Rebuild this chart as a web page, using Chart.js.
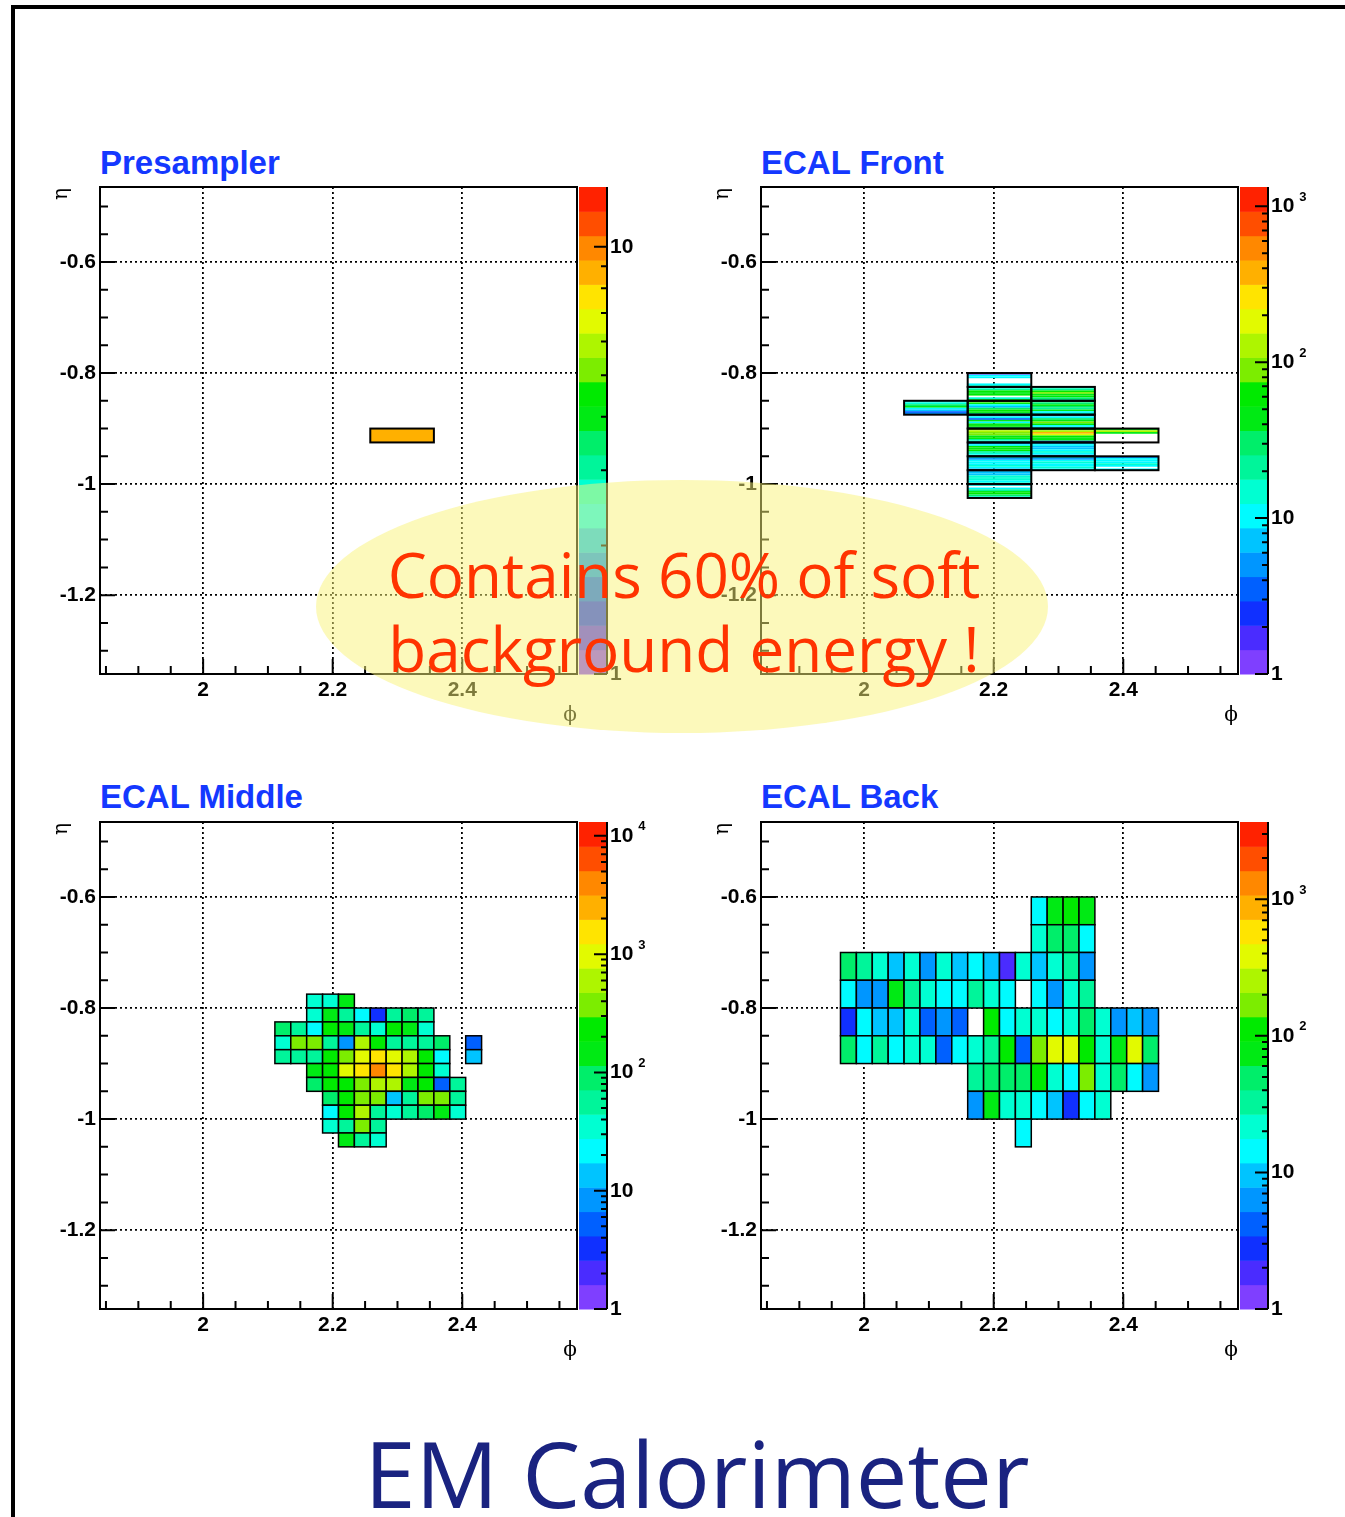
<!DOCTYPE html>
<html>
<head>
<meta charset="utf-8">
<script src="https://cdn.jsdelivr.net/npm/chart.js@4.4.0/dist/chart.umd.min.js"></script>
<style>
    html, body { margin: 0; padding: 0; background: #fff; }
    body { width: 1345px; height: 1517px; position: relative; overflow: hidden; }
    canvas { position: absolute; }
    .rule-top { position: absolute; left: 11px; top: 5px; width: 1334px; height: 4px; background: #000; }
    .rule-left { position: absolute; left: 11px; top: 5px; width: 4px; height: 1512px; background: #000; }
    .title { position: absolute; font: bold 33px 'Liberation Sans', Arial, sans-serif; line-height: 33px; color: #1438ff; white-space: nowrap; }
    .blob { position: absolute; left: 316px; top: 480px; width: 732px; height: 253px; border-radius: 50%; background: rgba(250, 244, 120, 0.5); }
    .note { position: absolute; left: 684px; top: 537px; transform: translateX(-50%); font: 62px 'Open Sans', sans-serif; line-height: 74px; color: #ff3300; text-align: center; white-space: nowrap; }
    .big { position: absolute; left: 697px; top: 1427px; transform: translateX(-50%); font: 92px 'Open Sans', sans-serif; line-height: 92px; color: #1a2380; white-space: nowrap; }
</style>
</head>
<body>
<div class="rule-top"></div>
<div class="rule-left"></div>

<div class="title" style="left:100px;top:146px">Presampler</div>
<div class="title" style="left:761px;top:146px">ECAL Front</div>
<div class="title" style="left:100px;top:780px">ECAL Middle</div>
<div class="title" style="left:761px;top:780px">ECAL Back</div>

<canvas id="preChart" width="667" height="557" style="left:5px;top:177px"></canvas>
<canvas id="frontChart" width="667" height="557" style="left:666px;top:177px"></canvas>
<canvas id="middleChart" width="667" height="557" style="left:5px;top:812px"></canvas>
<canvas id="backChart" width="667" height="557" style="left:666px;top:812px"></canvas>

<div class="blob"></div>
<div class="note">Contains 60% of soft<br>background energy !</div>
<div class="big">EM Calorimeter</div>

<script>
// axis ranges (phi, eta) and ticks
const PHI_MIN = 1.8408, PHI_MAX = 2.5771;
const ETA_MIN = -1.342, ETA_MAX = -0.465;
const phiMajor = [2, 2.2, 2.4];
const phiTickLabels = ['2', '2.2', '2.4'];
const etaMajor = [-0.6, -0.8, -1.0, -1.2];
const etaTickLabels = ['-0.6', '-0.8', '-1', '-1.2'];

// cell sizes
const D_PHI_COARSE = 2 * Math.PI / 64;
const D_PHI_FINE = 2 * Math.PI / 256;
const D_ETA = 0.025;
const D_ETA_BACK = 0.05;
const D_ETA_STRIP = 0.025 / 8;

// colour scale maxima
const preZMax = 13.8;
const frontZMax = 1330;
const middleZMax = 13100;
const backZMax = 3670;

// 20-step rainbow palette, low -> high
const palette = [
    '#7f3fff', '#4a2cff', '#1030ff', '#0060ff', '#0096ff',
    '#00c4ff', '#00fbff', '#00ffd2', '#00f59a', '#00ee6a',
    '#00ea14', '#00ea00', '#7ced00', '#aef500', '#e2fa00',
    '#ffe400', '#ffb000', '#ff8800', '#ff4e00', '#ff2200'
];

// Presampler: [phi bin (2pi/64), eta top edge, energy]
const preCells = [[23, -0.9, 8.7]];

// ECAL Front: [phi bin (2pi/64), eta top edge of block, 8 strips top -> bottom]
const frontBlocks = [
    [21, -0.85,  [10, 15, 30, 45, 11, 7.2, 3.5, 5]],
    [22, -0.8,   [1.3, 10, 11, null, null, null, 10, 14]],
    [22, -0.825, [10, 21, 63, 45, 60, null, 15, 44]],
    [22, -0.85,  [90, 45, 10, 7, 30, 63, 44, 21]],
    [22, -0.875, [5, 10, 3.5, 44, 10, 45, 63, 30]],
    [22, -0.9,   [130, 125, 90, 88, 44, 63, 21, 10]],
    [22, -0.925, [5, 10, 63, 44, 60, 21, 15, 10]],
    [22, -0.95,  [10, 5, 11, 10, 10.5, 15, 10, 7]],
    [22, -0.975, [7, 7.2, 7, 15, 14, 15, 10, 15]],
    [22, -1.0,   [10, null, 11, 21, 44, 63, 30, 15]],
    [23, -0.825, [15, 21, 63, 90, 44, 63, 30, 21]],
    [23, -0.85,  [21, 30, 44, 30, 21, 44, 10, 15]],
    [23, -0.875, [7, 10, 30, 44, 90, 63, 10, 15]],
    [23, -0.9,   [63, 129, 378, 184, 63, 44, 44, 3.5]],
    [23, -0.925, [7, 10, 7, 7.2, 10, 15, 10, 7]],
    [23, -0.95,  [10, 5, 10, 15, 11, 10, 14, 10]],
    [24, -0.9,   [44, 129, 44, null, null, null, null, null]],
    [24, -0.95,  [5, 10, 11, 10, 15, 10, null, 10]]
];

// ECAL Middle: rows of 0.025 in eta from -0.775 down, columns from phi bin 86 (2pi/256)
const middleEtaTop = -0.775;
const middlePhiFirst = 86;
const middleRows = [
    [null, null, 35, 38, 150, null, null, null, null, null, null, null, null],
    [null, null, 33, 160, 60, 22, 3.3, 58, 90, 55, null, null, null],
    [85, 60, 20, 200, 170, 62, 36, 190, 160, 38, null, null, null],
    [34, 400, 420, 55, 8.5, 600, 210, 60, 58, 57, 95, null, 5],
    [60, 58, 56, 220, 380, 950, 1500, 1000, 620, 200, 22, null, 14],
    [null, null, 180, 240, 980, 1600, 4000, 1550, 610, 230, 36, null, null],
    [null, null, 88, 200, 190, 390, 640, 590, 170, 210, 5.5, 57, null],
    [null, null, null, 90, 230, 370, 400, 14, 55, 360, 350, 60, null],
    [null, null, null, 21, 200, 600, 58, 35, 55, 92, 180, 36, null],
    [null, null, null, 34, 60, 380, 56, null, null, null, null, null, null],
    [null, null, null, null, 170, 58, 35, null, null, null, null, null, null]
];

// ECAL Back: rows of 0.05 in eta from -0.6 down, columns from phi bin 80 (2pi/256)
const backEtaTop = -0.6;
const backPhiFirst = 80;
const backRows = [
    [null, null, null, null, null, null, null, null, null, null, null, null, 14, 90, 95, 85, null, null, null, null],
    [null, null, null, null, null, null, null, null, null, null, null, null, 22, 45, 50, 14, null, null, null, null],
    [52, 33, 22, 9.5, 21, 6.3, 22, 9.8, 14, 9, 1.9, 23, 9.6, 21, 34, 6, null, null, null, null],
    [14, 6.2, 6.4, 90, 33, 22, 14, 15, 32, 22, 14, null, 14, 6.3, 21, 35, null, null, null, null],
    [2.8, 14, 9.4, 9.6, 22, 4.2, 6.5, 4.0, null, 95, 15, 22, 21, 14, 23, 48, 22, 6.2, 9.5, 7],
    [50, 14, 34, 15, 21, 22, 4.2, 14, 22, 33, 100, 4.3, 170, 390, 380, 92, 22, 88, 385, 52],
    [null, null, null, null, null, null, null, null, 34, 48, 50, 47, 95, 22, 14, 165, 21, 49, 14, 6.4],
    [null, null, null, null, null, null, null, null, 6.3, 90, 22, 21, 14, 9.4, 2.9, 14, 22, null, null, null],
    [null, null, null, null, null, null, null, null, null, null, null, 14, null, null, null, null, null, null, null, null]
];

const FONT = "'Liberation Sans', Arial, sans-serif";

function isNear(v, list) {
    return list.findIndex(m => Math.abs(v - m) < 1e-6);
}

function stepValues(from, to, step) {
    const out = [];
    for (let i = 0; from + i * step <= to + 1e-9; i++) out.push(+(from + i * step).toFixed(4));
    return out;
}
const phiTickValues = stepValues(1.85, 2.55, 0.05);
const etaTickValues = stepValues(-1.3, -0.5, 0.05);

function zTickValues(zMax) {
    const out = [];
    for (let e = 1; e <= zMax; e *= 10) {
        for (let s = 1; s < 10; s++) if (s * e <= zMax) out.push(s * e);
    }
    return out;
}

function isPow10(v) {
    const l = Math.log10(v);
    return Math.abs(l - Math.round(l)) < 1e-9;
}

function colorFor(v, zMax) {
    let b = Math.floor(Math.log10(v) / Math.log10(zMax) * palette.length);
    b = Math.max(0, Math.min(palette.length - 1, b));
    return palette[b];
}

function gridCells(rows, etaTop, dEta, phiFirst, dPhi) {
    const cells = [];
    rows.forEach((row, r) => row.forEach((v, c) => {
        if (v == null) return;
        const x0 = (phiFirst + c) * dPhi, y0 = etaTop - r * dEta;
        cells.push({ x: x0 + dPhi / 2, y: y0 - dEta / 2, x0: x0, x1: x0 + dPhi, y0: y0, y1: y0 - dEta, v: v });
    }));
    return cells;
}

// keep the plot frame where it is: no extra room for edge labels
function fixWidth(w) {
    return s => { s.width = w; s.paddingTop = 0; s.paddingBottom = 0; };
}

function makeHeatPlugin(edgeWidth, outlines) {
    return {
        id: 'heat',
        afterDatasetsDraw(chart) {
            const { ctx, chartArea: a, scales: { x, y, z } } = chart;
            const zMax = z.max;
            const cells = chart.data.datasets[0].data;

            // cells
            ctx.save();
            ctx.beginPath();
            ctx.rect(a.left, a.top, a.right - a.left, a.bottom - a.top);
            ctx.clip();
            cells.forEach(c => {
                const px0 = x.getPixelForValue(c.x0), px1 = x.getPixelForValue(c.x1);
                const py0 = y.getPixelForValue(c.y0), py1 = y.getPixelForValue(c.y1);
                ctx.fillStyle = colorFor(c.v, zMax);
                ctx.fillRect(px0, py0, px1 - px0, py1 - py0);
                if (edgeWidth) {
                    ctx.strokeStyle = '#000';
                    ctx.lineWidth = edgeWidth;
                    ctx.strokeRect(px0, py0, px1 - px0, py1 - py0);
                }
            });
            outlines.forEach(o => {
                const px0 = x.getPixelForValue(o.x0), px1 = x.getPixelForValue(o.x1);
                const py0 = y.getPixelForValue(o.y0), py1 = y.getPixelForValue(o.y1);
                ctx.strokeStyle = '#000';
                ctx.lineWidth = 2;
                ctx.strokeRect(px0, py0, px1 - px0, py1 - py0);
            });
            ctx.restore();

            ctx.save();
            // frame
            ctx.strokeStyle = '#000';
            ctx.lineWidth = 2;
            ctx.strokeRect(a.left, a.top, a.right - a.left, a.bottom - a.top);

            // inward tick marks
            ctx.beginPath();
            phiTickValues.forEach(v => {
                const px = x.getPixelForValue(v);
                const len = isNear(v, phiMajor) >= 0 ? 15 : 8;
                ctx.moveTo(px, a.bottom);
                ctx.lineTo(px, a.bottom - len);
            });
            etaTickValues.forEach(v => {
                const py = y.getPixelForValue(v);
                const len = isNear(v, etaMajor) >= 0 ? 15 : 8;
                ctx.moveTo(a.left, py);
                ctx.lineTo(a.left + len, py);
            });
            ctx.stroke();

            // colour bar
            const bx0 = a.right + 2, bx1 = a.right + 30;
            const n = palette.length;
            for (let i = 0; i < n; i++) {
                const lo = Math.pow(zMax, i / n), hi = Math.pow(zMax, (i + 1) / n);
                const py0 = z.getPixelForValue(hi), py1 = z.getPixelForValue(lo);
                ctx.fillStyle = palette[i];
                ctx.fillRect(bx0, py0, bx1 - bx0, py1 - py0 + 0.5);
            }
            ctx.lineWidth = 2;
            ctx.beginPath();
            ctx.moveTo(bx1, z.getPixelForValue(zMax));
            ctx.lineTo(bx1, z.getPixelForValue(1));
            zTickValues(zMax).forEach(v => {
                const py = z.getPixelForValue(v);
                const len = isPow10(v) ? 13 : 6;
                ctx.moveTo(bx1, py);
                ctx.lineTo(bx1 - len, py);
            });
            ctx.stroke();

            // exponents for 10^n labels
            ctx.fillStyle = '#000';
            ctx.font = 'bold 21px ' + FONT;
            const w10 = ctx.measureText('10').width;
            ctx.font = 'bold 13px ' + FONT;
            ctx.textBaseline = 'middle';
            ctx.textAlign = 'left';
            zTickValues(zMax).forEach(v => {
                const e = Math.round(Math.log10(v));
                if (isPow10(v) && e >= 2) {
                    ctx.fillText(String(e), a.right + 33 + w10 + 5, z.getPixelForValue(v) - 9);
                }
            });

            // axis titles
            ctx.font = "20px 'DejaVu Serif', serif";
            ctx.textAlign = 'center';
            ctx.fillText('ϕ', a.right - 7, a.bottom + 42);
            ctx.translate(a.left - 38, a.top + 7);
            ctx.rotate(-Math.PI / 2);
            ctx.fillText('η', 0, 0);
            ctx.restore();
        }
    };
}

function makePanel(id, cells, zMax, edgeWidth, outlines) {
    const tickFont = { family: FONT, weight: 'bold', size: 21 };
    const dotted = { display: false, dash: [2, 3] };
    return new Chart(document.getElementById(id), {
        type: 'scatter',
        data: {
            datasets: [{ data: cells, xAxisID: 'x', yAxisID: 'y', pointRadius: 0, pointHoverRadius: 0 }]
        },
        options: {
            responsive: false,
            animation: false,
            devicePixelRatio: 1,
            events: [],
            layout: { padding: { top: 10, left: 0, right: 0, bottom: 0 } },
            plugins: { legend: { display: false }, tooltip: { enabled: false } },
            scales: {
                x: {
                    type: 'linear', position: 'bottom', min: PHI_MIN, max: PHI_MAX,
                    afterFit: s => { s.height = 60; s.paddingLeft = 0; s.paddingRight = 0; },
                    afterBuildTicks: s => { s.ticks = phiTickValues.map(v => ({ value: v })); },
                    grid: {
                        drawTicks: false, lineWidth: 1.8,
                        color: c => (c.tick && isNear(c.tick.value, phiMajor) >= 0) ? '#000' : 'rgba(0,0,0,0)'
                    },
                    border: dotted,
                    ticks: {
                        autoSkip: false, maxRotation: 0, padding: 4, color: '#000', font: tickFont,
                        callback: v => { const i = isNear(v, phiMajor); return i >= 0 ? phiTickLabels[i] : ''; }
                    }
                },
                y: {
                    type: 'linear', position: 'left', min: ETA_MIN, max: ETA_MAX,
                    afterFit: fixWidth(95),
                    afterBuildTicks: s => { s.ticks = etaTickValues.map(v => ({ value: v })); },
                    grid: {
                        drawTicks: false, lineWidth: 1.8,
                        color: c => (c.tick && isNear(c.tick.value, etaMajor) >= 0) ? '#000' : 'rgba(0,0,0,0)'
                    },
                    border: dotted,
                    ticks: {
                        autoSkip: false, padding: 4, color: '#000', font: tickFont,
                        callback: v => { const i = isNear(v, etaMajor); return i >= 0 ? etaTickLabels[i] : ''; }
                    }
                },
                z: {
                    type: 'logarithmic', position: 'right', min: 1, max: zMax,
                    afterFit: fixWidth(95),
                    afterBuildTicks: s => { s.ticks = zTickValues(zMax).map(v => ({ value: v })); },
                    grid: { display: false, drawTicks: false },
                    border: { display: false },
                    ticks: {
                        autoSkip: false, padding: 33, color: '#000', font: tickFont,
                        callback: v => isPow10(v) ? (v < 1.5 ? '1' : '10') : ''
                    }
                }
            }
        },
        plugins: [makeHeatPlugin(edgeWidth, outlines)]
    });
}

// Presampler
const preData = preCells.map(([bin, top, v]) => ({
    x: (bin + 0.5) * D_PHI_COARSE, y: top - D_ETA / 2,
    x0: bin * D_PHI_COARSE, x1: (bin + 1) * D_PHI_COARSE, y0: top, y1: top - D_ETA, v: v
}));
makePanel('preChart', preData, preZMax, 2, []);

// ECAL Front strips
const frontData = [];
const frontOutlines = [];
frontBlocks.forEach(([bin, top, strips]) => {
    const x0 = bin * D_PHI_COARSE, x1 = (bin + 1) * D_PHI_COARSE;
    strips.forEach((v, i) => {
        if (v == null) return;
        const y0 = top - i * D_ETA_STRIP;
        frontData.push({ x: (x0 + x1) / 2, y: y0 - D_ETA_STRIP / 2, x0: x0, x1: x1, y0: y0, y1: y0 - D_ETA_STRIP, v: v });
    });
    frontOutlines.push({ x0: x0, x1: x1, y0: top, y1: top - D_ETA });
});
makePanel('frontChart', frontData, frontZMax, 0, frontOutlines);

// ECAL Middle
makePanel('middleChart', gridCells(middleRows, middleEtaTop, D_ETA, middlePhiFirst, D_PHI_FINE), middleZMax, 1.5, []);

// ECAL Back
makePanel('backChart', gridCells(backRows, backEtaTop, D_ETA_BACK, backPhiFirst, D_PHI_FINE), backZMax, 1.5, []);
</script>
</body>
</html>
